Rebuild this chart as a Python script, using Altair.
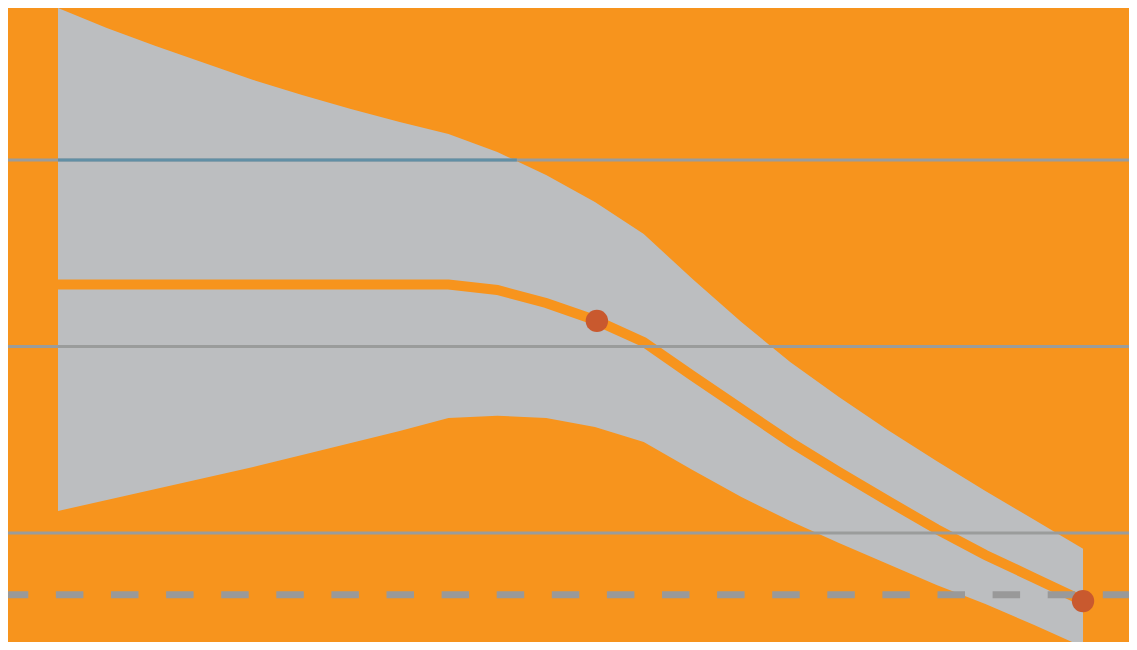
import altair as alt
import pandas as pd

# ---- data ----
steps = [0, 1, 2, 3, 4, 5, 6, 7, 8, 9, 10, 11, 12, 13, 14, 15, 16, 17, 18, 19, 20, 21]
upper = [3.815, 3.708, 3.611, 3.520, 3.429, 3.349, 3.274, 3.204, 3.139, 3.043, 2.920,
         2.775, 2.603, 2.362, 2.131, 1.917, 1.729, 1.552, 1.386, 1.225, 1.071, 0.916]
lower = [1.118, 1.177, 1.236, 1.295, 1.354, 1.418, 1.483, 1.547, 1.617, 1.629, 1.617,
         1.568, 1.488, 1.338, 1.193, 1.064, 0.946, 0.834, 0.721, 0.619, 0.507, 0.389]
central = [2.332, 2.332, 2.332, 2.332, 2.332, 2.332, 2.332, 2.332, 2.332, 2.303, 2.233,
           2.142, 2.024, 1.842, 1.665, 1.488, 1.327, 1.172, 1.021, 0.882, 0.759, 0.635]

marker_steps = [11.04, 21]
marker_values = [2.137, 0.635]

grid_levels = [1, 2, 3]
target_level = [0.669]

# part of the top grid line that lies over the band
overlap_start = [0]
overlap_end = [9.40]
overlap_level = [3]

ORANGE = "#F7941D"
BAND = "#BCBEC0"
GRID = "#9A9C9B"
DOT = "#C9592E"

band_df = pd.DataFrame({"step": steps, "upper": upper, "lower": lower, "central": central})
marker_df = pd.DataFrame({"step": marker_steps, "value": marker_values})
grid_df = pd.DataFrame({"level": grid_levels})
target_df = pd.DataFrame({"level": target_level})
overlap_df = pd.DataFrame({"x0": overlap_start, "x1": overlap_end, "level": overlap_level})

W, H = 1121, 634
xs = alt.Scale(domain=[-1.0244, 21.942], nice=False, zero=False)
ys = alt.Scale(domain=[0.4155, 3.815], nice=False, zero=False)

band = alt.Chart(band_df).mark_area(color=BAND, opacity=1).encode(
    x=alt.X("step:Q", scale=xs, axis=None),
    y=alt.Y("upper:Q", scale=ys, axis=None),
    y2="lower:Q",
)

line = alt.Chart(band_df).mark_line(color=ORANGE, strokeWidth=10).encode(
    x=alt.X("step:Q", scale=xs, axis=None),
    y=alt.Y("central:Q", scale=ys, axis=None),
)

grid = alt.Chart(grid_df).mark_rule(color=GRID, strokeWidth=3).encode(
    y=alt.Y("level:Q", scale=ys, axis=None),
)

overlap = alt.Chart(overlap_df).mark_rule(color="#618FA5", strokeWidth=3).encode(
    x=alt.X("x0:Q", scale=xs, axis=None),
    x2="x1:Q",
    y=alt.Y("level:Q", scale=ys, axis=None),
)

target = alt.Chart(target_df).mark_rule(
    color="#999999", strokeWidth=7, strokeDash=[27.5, 27.6], strokeDashOffset=1.3
).encode(
    y=alt.Y("level:Q", scale=ys, axis=None),
)

dots = alt.Chart(marker_df).mark_circle(color=DOT, size=500, opacity=1).encode(
    x=alt.X("step:Q", scale=xs, axis=None),
    y=alt.Y("value:Q", scale=ys, axis=None),
)

chart = alt.layer(band, line, grid, overlap, target, dots).properties(
    width=W,
    height=H,
    padding=0,
    autosize=alt.AutoSizeParams(type="none"),
    background=ORANGE,
).configure_view(strokeWidth=0)

chart.save("out.html", embed_options={"renderer": "svg", "actions": False})
